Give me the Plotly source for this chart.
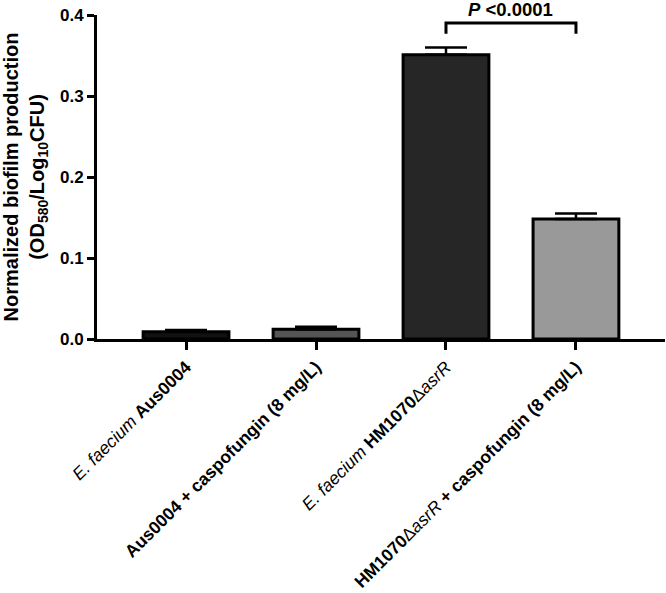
import plotly.graph_objects as go

categories = [
    "<i>E. faecium</i> <b>Aus0004</b>",
    "<b>Aus0004 + caspofungin (8 mg/L)</b>",
    "<i>E. faecium</i> <b>HM1070</b>Δ<i>asrR</i>",
    "<b>HM1070</b>Δ<i>asrR</i><b> + caspofungin (8 mg/L)</b>",
]
means = [0.009, 0.012, 0.351, 0.148]
errors = [0.002, 0.003, 0.009, 0.007]
bar_colors = ["#111111", "#555555", "#262626", "#999999"]

FONT = "Arial, Liberation Sans, sans-serif"

fig = go.Figure(go.Bar(
    x=list(range(len(categories))),
    y=means,
    width=0.66,
    marker=dict(color=bar_colors, line=dict(color="black", width=3)),
    error_y=dict(type="data", array=errors, symmetric=False, arrayminus=[0] * 4,
                 color="black", thickness=2.5, width=21),
))

# significance bracket between bars 3 and 4
fig.add_shape(type="path", path="M 2,0.377 L 2,0.39 L 3,0.39 L 3,0.377",
              xref="x", yref="y", line=dict(color="black", width=3))
fig.add_annotation(x=2.5, y=0.4, xref="x", yref="y", yanchor="middle",
                   yshift=6, showarrow=False,
                   text="<b><i>P</i> <0.0001</b>",
                   font=dict(family=FONT, size=18.5, color="black"))

fig.update_xaxes(
    range=[-0.685, 3.685],
    tickmode="array",
    tickvals=list(range(len(categories))),
    ticktext=categories,
    tickangle=-45,
    ticks="outside", ticklen=8, tickwidth=3, tickcolor="black",
    showline=True, linewidth=3, linecolor="black",
    showgrid=False, zeroline=False, automargin=False,
    tickfont=dict(family=FONT, size=17.5, color="black"),
)
fig.update_yaxes(
    range=[0, 0.4],
    tickvals=[0, 0.1, 0.2, 0.3, 0.4],
    ticktext=["<b>0.0</b>", "<b>0.1</b>", "<b>0.2</b>", "<b>0.3</b>", "<b>0.4</b>"],
    ticks="outside", ticklen=7, tickwidth=3, tickcolor="black",
    showline=True, linewidth=3, linecolor="black",
    showgrid=False, zeroline=False, automargin=False,
    ticklabeloverflow="allow",
    tickfont=dict(family=FONT, size=17, color="black"),
    title=dict(
        text="<b>Normalized biofilm production<br>(OD<sub>580</sub>/Log<sub>10</sub>CFU)</b>",
        font=dict(family=FONT, size=20, color="black"),
        standoff=22,
    ),
)

fig.update_layout(
    width=666, height=593,
    plot_bgcolor="white", paper_bgcolor="white",
    margin=dict(l=97, r=1, t=15, b=254),
    showlegend=False,
)

# drop the browser's default 8px body margin so the figure fills the window
fig.write_html("out.html", config={"displayModeBar": False},
               post_script="document.body.style.margin='0';")
